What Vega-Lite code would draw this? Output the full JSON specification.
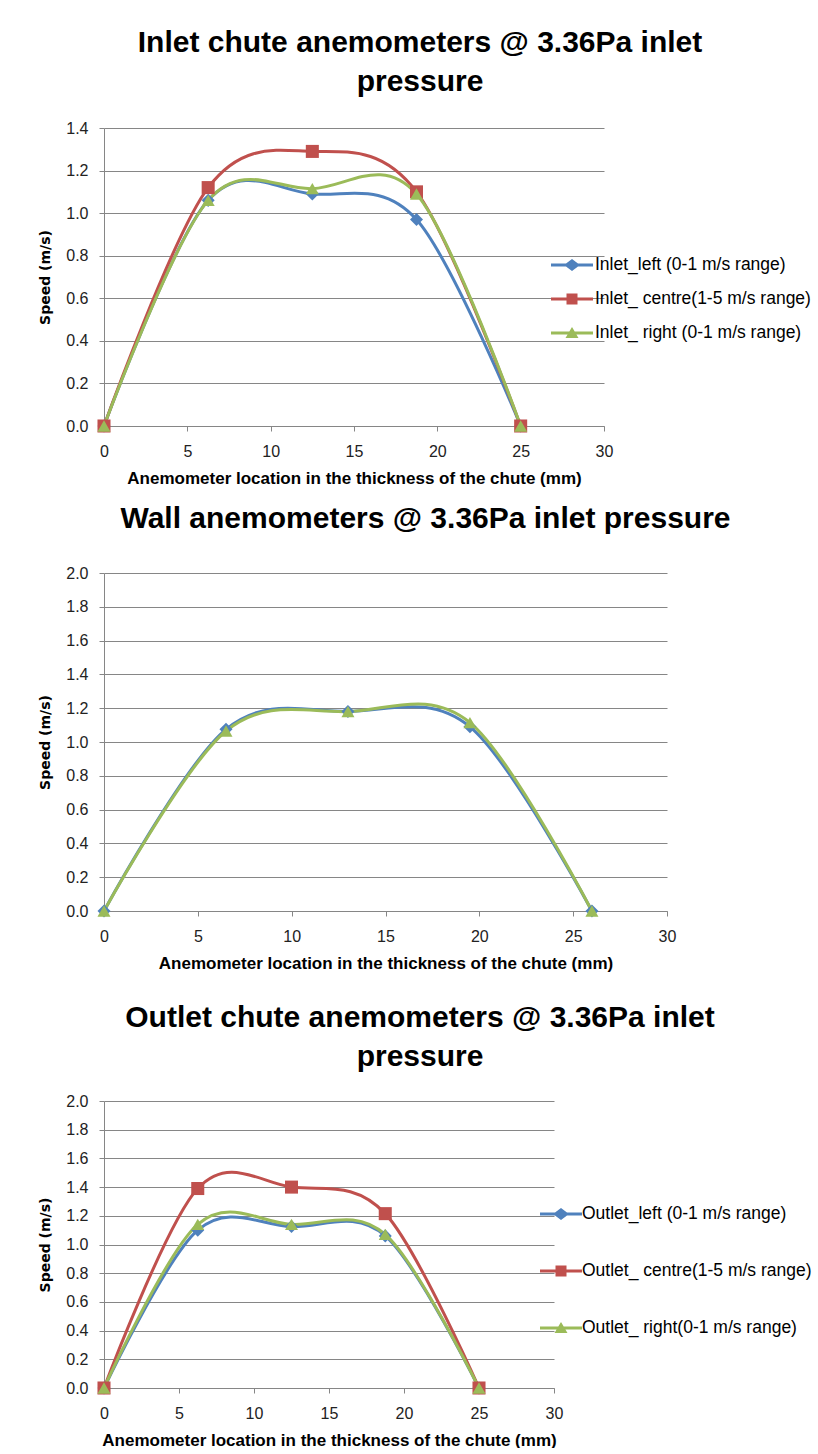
{
  "$schema": "https://vega.github.io/schema/vega-lite/v6.json",
  "background": "white",
  "padding": {"left": 38, "top": 28, "right": 0, "bottom": 0},
  "autosize": {"type": "pad"},
  "spacing": 18,
  "config": {
    "font": "Liberation Sans",
    "view": {"stroke": null},
    "title": {"font": "Liberation Sans", "fontSize": 30, "fontWeight": "bold", "color": "#000000", "anchor": "middle", "frame": "group", "lineHeight": 39},
    "axis": {"labelFont": "Liberation Sans", "labelFontSize": 16, "labelColor": "#222222", "domainColor": "#868686", "tickColor": "#868686", "gridColor": "#868686", "gridOpacity": 1, "tickSize": 5, "titleColor": "#000000"},
    "axisX": {"grid": false, "labelFlush": false, "labelPadding": 12, "titleFont": "Liberation Sans", "titleFontSize": 17, "titleFontWeight": "bold", "titlePadding": 11},
    "axisY": {"grid": true, "labelPadding": 11, "titleFont": "DejaVu Sans", "titleFontSize": 14, "titleFontWeight": "bold", "titlePadding": 13},
    "legend": {"labelFont": "Liberation Sans", "labelFontSize": 17.5, "labelColor": "#000000", "labelLimit": 400, "symbolSize": 400, "symbolStrokeWidth": 0, "symbolOpacity": 1, "title": null}
  },
  "datasets": {
    "inlet": [
      {"series": "Inlet_left (0-1 m/s range)", "x": 0, "speed": 0},
      {"series": "Inlet_left (0-1 m/s range)", "x": 6.25, "speed": 1.06},
      {"series": "Inlet_left (0-1 m/s range)", "x": 12.5, "speed": 1.09},
      {"series": "Inlet_left (0-1 m/s range)", "x": 18.75, "speed": 0.97},
      {"series": "Inlet_left (0-1 m/s range)", "x": 25, "speed": 0},
      {"series": "Inlet_ centre(1-5 m/s range)", "x": 0, "speed": 0},
      {"series": "Inlet_ centre(1-5 m/s range)", "x": 6.25, "speed": 1.12},
      {"series": "Inlet_ centre(1-5 m/s range)", "x": 12.5, "speed": 1.29},
      {"series": "Inlet_ centre(1-5 m/s range)", "x": 18.75, "speed": 1.1},
      {"series": "Inlet_ centre(1-5 m/s range)", "x": 25, "speed": 0},
      {"series": "Inlet_ right (0-1 m/s range)", "x": 0, "speed": 0},
      {"series": "Inlet_ right (0-1 m/s range)", "x": 6.25, "speed": 1.06},
      {"series": "Inlet_ right (0-1 m/s range)", "x": 12.5, "speed": 1.115},
      {"series": "Inlet_ right (0-1 m/s range)", "x": 18.75, "speed": 1.09},
      {"series": "Inlet_ right (0-1 m/s range)", "x": 25, "speed": 0}
    ],
    "wall": [
      {"series": "Wall_left", "x": 0, "speed": 0},
      {"series": "Wall_left", "x": 6.5, "speed": 1.075},
      {"series": "Wall_left", "x": 13, "speed": 1.18},
      {"series": "Wall_left", "x": 19.5, "speed": 1.09},
      {"series": "Wall_left", "x": 26, "speed": 0},
      {"series": "Wall_right", "x": 0, "speed": 0},
      {"series": "Wall_right", "x": 6.5, "speed": 1.065},
      {"series": "Wall_right", "x": 13, "speed": 1.18},
      {"series": "Wall_right", "x": 19.5, "speed": 1.115},
      {"series": "Wall_right", "x": 26, "speed": 0}
    ],
    "outlet": [
      {"series": "Outlet_left (0-1 m/s range)", "x": 0, "speed": 0},
      {"series": "Outlet_left (0-1 m/s range)", "x": 6.25, "speed": 1.1},
      {"series": "Outlet_left (0-1 m/s range)", "x": 12.5, "speed": 1.125},
      {"series": "Outlet_left (0-1 m/s range)", "x": 18.75, "speed": 1.06},
      {"series": "Outlet_left (0-1 m/s range)", "x": 25, "speed": 0},
      {"series": "Outlet_ centre(1-5 m/s range)", "x": 0, "speed": 0},
      {"series": "Outlet_ centre(1-5 m/s range)", "x": 6.25, "speed": 1.39},
      {"series": "Outlet_ centre(1-5 m/s range)", "x": 12.5, "speed": 1.4},
      {"series": "Outlet_ centre(1-5 m/s range)", "x": 18.75, "speed": 1.215},
      {"series": "Outlet_ centre(1-5 m/s range)", "x": 25, "speed": 0},
      {"series": "Outlet_ right(0-1 m/s range)", "x": 0, "speed": 0},
      {"series": "Outlet_ right(0-1 m/s range)", "x": 6.25, "speed": 1.14},
      {"series": "Outlet_ right(0-1 m/s range)", "x": 12.5, "speed": 1.14},
      {"series": "Outlet_ right(0-1 m/s range)", "x": 18.75, "speed": 1.07},
      {"series": "Outlet_ right(0-1 m/s range)", "x": 25, "speed": 0}
    ]
  },
  "resolve": {"scale": {"color": "independent", "shape": "independent"}, "legend": {"color": "independent", "shape": "independent"}},
  "vconcat": [
    {
      "width": 500,
      "height": 298,
      "title": {"text": ["Inlet chute anemometers @ 3.36Pa inlet", "pressure"], "dx": 66, "offset": 23},
      "data": {"name": "inlet"},
      "encoding": {
        "x": {"field": "x", "type": "quantitative", "scale": {"domain": [0, 30], "nice": false}, "axis": {"values": [0, 5, 10, 15, 20, 25, 30], "title": "Anemometer location in the thickness of the chute (mm)"}},
        "y": {"field": "speed", "type": "quantitative", "scale": {"domain": [0, 1.4], "nice": false}, "axis": {"values": [0, 0.2, 0.4, 0.6, 0.8, 1.0, 1.2, 1.4], "format": ".1f", "title": "Speed (m/s)"}}
      },
      "resolve": {"scale": {"shape": "independent"}, "legend": {"color": "independent", "shape": "independent"}},
      "layer": [
        {
          "mark": {"type": "line", "interpolate": "cardinal", "strokeWidth": 3},
          "encoding": {"color": {"field": "series", "type": "nominal", "scale": {"domain": ["Inlet_left (0-1 m/s range)", "Inlet_ centre(1-5 m/s range)", "Inlet_ right (0-1 m/s range)"], "range": ["#4F81BD", "#C0504D", "#9BBB59"]}, "legend": null}}
        },
        {
          "mark": {"type": "point", "filled": true, "size": 170, "opacity": 1},
          "encoding": {
            "color": {"field": "series", "type": "nominal", "scale": {"domain": ["Inlet_left (0-1 m/s range)", "Inlet_ centre(1-5 m/s range)", "Inlet_ right (0-1 m/s range)"], "range": ["#4F81BD", "#C0504D", "#9BBB59"]}, "legend": null},
            "shape": {"field": "series", "type": "nominal", "scale": {"domain": ["Inlet_left (0-1 m/s range)", "Inlet_ centre(1-5 m/s range)", "Inlet_ right (0-1 m/s range)"], "range": ["diamond", "square", "triangle-up"]}, "legend": null}
          }
        },
        {
          "transform": [{"filter": "datum.x < 0"}],
          "mark": {"type": "point", "filled": true, "opacity": 1},
          "encoding": {
            "color": {"field": "series", "type": "nominal", "scale": {"domain": ["Inlet_left (0-1 m/s range)", "Inlet_ centre(1-5 m/s range)", "Inlet_ right (0-1 m/s range)"], "range": ["#4F81BD", "#C0504D", "#9BBB59"]},
              "legend": {"orient": "none", "legendX": 458, "legendY": 127, "labelOffset": 13, "rowPadding": 15}},
            "shape": {"field": "series", "type": "nominal", "scale": {"domain": ["Inlet_left (0-1 m/s range)", "Inlet_ centre(1-5 m/s range)", "Inlet_ right (0-1 m/s range)"], "range": ["M-2.1,-0.15H-0.6L0,-0.6L0.6,-0.15H2.1V0.15H0.6L0,0.6L-0.6,0.15H-2.1Z", "M-2.1,-0.15H-0.55V-0.55H0.55V-0.15H2.1V0.15H0.55V0.55H-0.55V0.15H-2.1Z", "M-2.1,-0.15H-0.27L0,-0.6L0.27,-0.15H2.1V0.15H0.44L0.65,0.5H-0.65L-0.44,0.15H-2.1Z"]},
              "legend": {"orient": "none", "legendX": 458, "legendY": 127, "labelOffset": 13, "rowPadding": 15}}
          }
        }
      ]
    },
    {
      "spacing": 32,
      "resolve": {"scale": {"color": "independent", "shape": "independent"}, "legend": {"color": "independent", "shape": "independent"}},
      "vconcat": [
        {
          "width": 563,
          "height": 338,
          "title": {"text": "Wall anemometers @ 3.36Pa inlet pressure", "dx": 40, "offset": 31},
          "data": {"name": "wall"},
          "encoding": {
            "x": {"field": "x", "type": "quantitative", "scale": {"domain": [0, 30], "nice": false}, "axis": {"values": [0, 5, 10, 15, 20, 25, 30], "title": "Anemometer location in the thickness of the chute (mm)"}},
            "y": {"field": "speed", "type": "quantitative", "scale": {"domain": [0, 2], "nice": false}, "axis": {"values": [0, 0.2, 0.4, 0.6, 0.8, 1.0, 1.2, 1.4, 1.6, 1.8, 2.0], "format": ".1f", "title": "Speed (m/s)"}}
          },
          "layer": [
            {
              "mark": {"type": "line", "interpolate": "cardinal", "strokeWidth": 3},
              "encoding": {"color": {"field": "series", "type": "nominal", "scale": {"domain": ["Wall_left", "Wall_right"], "range": ["#4F81BD", "#9BBB59"]}, "legend": null}}
            },
            {
              "mark": {"type": "point", "filled": true, "size": 170, "opacity": 1},
              "encoding": {
                "color": {"field": "series", "type": "nominal", "scale": {"domain": ["Wall_left", "Wall_right"], "range": ["#4F81BD", "#9BBB59"]}, "legend": null},
                "shape": {"field": "series", "type": "nominal", "scale": {"domain": ["Wall_left", "Wall_right"], "range": ["diamond", "triangle-up"]}, "legend": null}
              }
            }
          ]
        },
        {
          "width": 450,
          "height": 287,
          "title": {"text": ["Outlet chute anemometers @ 3.36Pa inlet", "pressure"], "dx": 91, "offset": 21},
          "data": {"name": "outlet"},
          "encoding": {
            "x": {"field": "x", "type": "quantitative", "scale": {"domain": [0, 30], "nice": false}, "axis": {"values": [0, 5, 10, 15, 20, 25, 30], "title": "Anemometer location in the thickness of the chute (mm)"}},
            "y": {"field": "speed", "type": "quantitative", "scale": {"domain": [0, 2], "nice": false}, "axis": {"values": [0, 0.2, 0.4, 0.6, 0.8, 1.0, 1.2, 1.4, 1.6, 1.8, 2.0], "format": ".1f", "title": "Speed (m/s)"}}
          },
          "resolve": {"scale": {"shape": "independent"}, "legend": {"color": "independent", "shape": "independent"}},
          "layer": [
            {
              "mark": {"type": "line", "interpolate": "cardinal", "strokeWidth": 3},
              "encoding": {"color": {"field": "series", "type": "nominal", "scale": {"domain": ["Outlet_left (0-1 m/s range)", "Outlet_ centre(1-5 m/s range)", "Outlet_ right(0-1 m/s range)"], "range": ["#4F81BD", "#C0504D", "#9BBB59"]}, "legend": null}}
            },
            {
              "mark": {"type": "point", "filled": true, "size": 170, "opacity": 1},
              "encoding": {
                "color": {"field": "series", "type": "nominal", "scale": {"domain": ["Outlet_left (0-1 m/s range)", "Outlet_ centre(1-5 m/s range)", "Outlet_ right(0-1 m/s range)"], "range": ["#4F81BD", "#C0504D", "#9BBB59"]}, "legend": null},
                "shape": {"field": "series", "type": "nominal", "scale": {"domain": ["Outlet_left (0-1 m/s range)", "Outlet_ centre(1-5 m/s range)", "Outlet_ right(0-1 m/s range)"], "range": ["diamond", "square", "triangle-up"]}, "legend": null}
              }
            },
            {
              "transform": [{"filter": "datum.x < 0"}],
              "mark": {"type": "point", "filled": true, "opacity": 1},
              "encoding": {
                "color": {"field": "series", "type": "nominal", "scale": {"domain": ["Outlet_left (0-1 m/s range)", "Outlet_ centre(1-5 m/s range)", "Outlet_ right(0-1 m/s range)"], "range": ["#4F81BD", "#C0504D", "#9BBB59"]},
                  "legend": {"orient": "none", "legendX": 447, "legendY": 103, "labelOffset": 11, "rowPadding": 38}},
                "shape": {"field": "series", "type": "nominal", "scale": {"domain": ["Outlet_left (0-1 m/s range)", "Outlet_ centre(1-5 m/s range)", "Outlet_ right(0-1 m/s range)"], "range": ["M-2.1,-0.15H-0.6L0,-0.6L0.6,-0.15H2.1V0.15H0.6L0,0.6L-0.6,0.15H-2.1Z", "M-2.1,-0.15H-0.55V-0.55H0.55V-0.15H2.1V0.15H0.55V0.55H-0.55V0.15H-2.1Z", "M-2.1,-0.15H-0.27L0,-0.6L0.27,-0.15H2.1V0.15H0.44L0.65,0.5H-0.65L-0.44,0.15H-2.1Z"]},
                  "legend": {"orient": "none", "legendX": 447, "legendY": 103, "labelOffset": 11, "rowPadding": 38}}
              }
            }
          ]
        }
      ]
    }
  ]
}
